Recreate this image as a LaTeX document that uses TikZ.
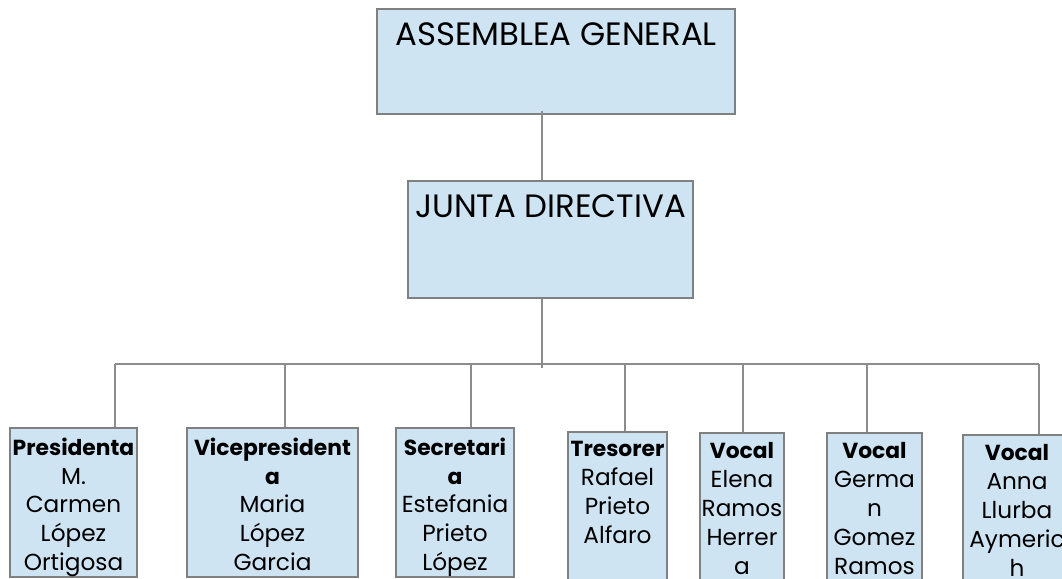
\documentclass[tikz,border=0pt]{standalone}
\usepackage{fontspec}
\setmainfont{Poppins}
\usetikzlibrary{fit}
\definecolor{boxblue}{RGB}{207,228,243}
\definecolor{boxgray}{RGB}{128,128,128}
\definecolor{linegray}{RGB}{140,140,140}
\newcommand{\role}[1]{{\fontsize{15.5}{20.6}\selectfont\bfseries #1}}
\begin{document}
\begin{tikzpicture}[x=0.025cm, y=-0.025cm,
        orgbox/.style={draw=boxgray, fill=boxblue, line width=1pt, inner sep=0pt},
        toptext/.style={anchor=north, inner sep=0pt, font=\fontsize{23}{27}\selectfont},
        membertext/.style={anchor=north, align=center, inner sep=0pt, font=\fontsize{16.5}{20.6}\selectfont},
        conn/.style={draw=linegray, line width=1pt}]
    \clip (0,0) rectangle (1062,578);
    \fill[white] (0,0) rectangle (1062,578);
    \node[orgbox, fit={(377,9) (735,114)}] (assemblea) {};
    \node[toptext] (assemblea-t) at ([yshift=-3.5mm]assemblea.north) {ASSEMBLEA GENERAL};
    \node[orgbox, fit={(408,181) (693,298)}] (junta) {};
    \node[toptext] (junta-t) at ([yshift=-3.5mm]junta.north) {JUNTA DIRECTIVA};
    % membres
    \node[orgbox, fit={(10,428) (137,577)}] (presidenta) {};
    \node[membertext] (presidenta-t) at ([yshift=-2.5mm]presidenta.north) {\role{Presidenta}\\M.\\Carmen\\López\\Ortigosa};
    \node[orgbox, fit={(187,428) (358,577)}] (vicepresidenta) {};
    \node[membertext] (vicepresidenta-t) at ([yshift=-2.5mm]vicepresidenta.north) {\role{Vicepresident}\\\role{a}\\Maria\\López\\Garcia};
    \node[orgbox, fit={(396,428) (514,577)}] (secretaria) {};
    \node[membertext] (secretaria-t) at ([yshift=-2.5mm]secretaria.north) {\role{Secretari}\\\role{a}\\Estefania\\Prieto\\López};
    \node[orgbox, fit={(568,432) (667,600)}] (tresorer) {};
    \node[membertext] (tresorer-t) at ([yshift=-2.5mm]tresorer.north) {\role{Tresorer}\\Rafael\\Prieto\\Alfaro};
    \node[orgbox, fit={(700,433) (784,600)}] (vocalA) {};
    \node[membertext] (vocalA-t) at ([yshift=-2.5mm]vocalA.north) {\role{Vocal}\\Elena\\Ramos\\Herrer\\a};
    \node[orgbox, fit={(827,433) (922,600)}] (vocalB) {};
    \node[membertext] (vocalB-t) at ([yshift=-2.5mm]vocalB.north) {\role{Vocal}\\Germa\\n\\Gomez\\Ramos};
    \node[orgbox, fit={(963,435) (1071,600)}] (vocalC) {};
    \node[membertext] (vocalC-t) at ([yshift=-2.5mm]vocalC.north) {\role{Vocal}\\Anna\\Llurba\\Aymeric\\h};
    % connexions
    \coordinate (spine) at (542,0);
    \coordinate (b1) at (115,364);
    \coordinate (b2) at (285,364);
    \coordinate (b3) at (471,364);
    \coordinate (b4) at (625,364);
    \coordinate (b5) at (743,364);
    \coordinate (b6) at (867,364);
    \coordinate (b7) at (1039,364);
    \draw[conn] ([yshift=1mm]assemblea.south -| spine) -- (junta.north -| spine);
    \draw[conn] (junta.south -| spine) -- ([yshift=-1mm]spine |- b1);
    \draw[conn] (b1) -- (b7);
    \foreach \child/\drop in {presidenta/b1, vicepresidenta/b2, secretaria/b3, tresorer/b4, vocalA/b5, vocalB/b6, vocalC/b7}
        \draw[conn] (\drop) -- (\drop |- \child.north);
\end{tikzpicture}
\end{document}
